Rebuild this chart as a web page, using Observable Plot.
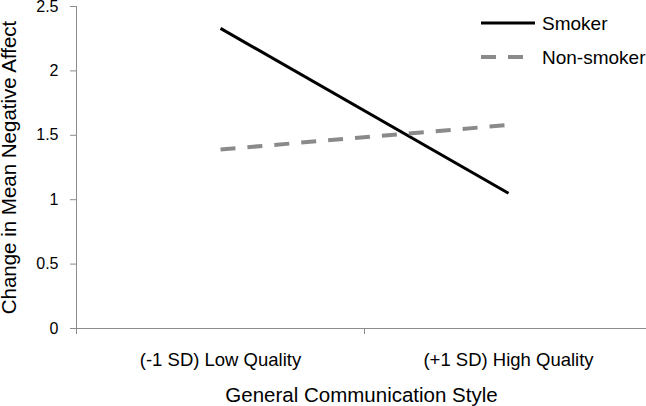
<!DOCTYPE html>
<html>
<head>
<meta charset="utf-8">
<script src="https://cdn.jsdelivr.net/npm/d3@7"></script>
<script src="https://cdn.jsdelivr.net/npm/@observablehq/plot@0.6"></script>
<style>
  html, body { margin: 0; padding: 0; background: #fff; }
  #wrap { position: relative; width: 646px; height: 406px; overflow: hidden; font-family: "Liberation Sans", Arial, sans-serif; }
  #legend { position: absolute; left: 0; top: 0; }
</style>
</head>
<body>
<div id="wrap"></div>
<script>
const categories = ["(-1 SD) Low Quality", "(+1 SD) High Quality"];
const seriesNames = ["Smoker", "Non-smoker"];
const smoker = [2.33, 1.05];
const nonSmoker = [1.39, 1.58];
const yTicks = [0, 0.5, 1, 1.5, 2, 2.5];
const seriesColors = ["#000000", "#8a8a8a"];
const seriesDash = [null, "15,12"];
const seriesWidth = [3, 4];

const rows = [];
[smoker, nonSmoker].forEach((vals, s) => {
  vals.forEach((v, i) => rows.push({pos: i + 0.5, value: v, series: seriesNames[s]}));
});
const catPos = categories.map((c, i) => i + 0.5);
const boundaries = d3.range(categories.length + 1);

const axisColor = "#8c8c8c";
const font = "Liberation Sans, Arial, sans-serif";

const chart = Plot.plot({
  width: 646,
  height: 406,
  marginLeft: 76,
  marginRight: 0,
  marginTop: 6,
  marginBottom: 78,
  style: {fontFamily: font, color: "#000", background: "transparent", overflow: "visible"},
  x: {type: "linear", domain: [0, categories.length], range: [76, 652]},
  y: {domain: [0, 2.5], range: [328, 6]},
  marks: [
    Plot.axisY({ticks: yTicks, tickSize: 6, tickPadding: 12, stroke: axisColor, fill: "#000", fontSize: 16, tickFormat: d => String(d), label: null}),
    Plot.axisX({ticks: boundaries, tickSize: 6, stroke: axisColor, tickFormat: () => "", label: null}),
    Plot.axisX({ticks: catPos, tickSize: 0, tickPadding: 24, fill: "#000", fontSize: 18.5, tickFormat: d => categories[Math.floor(d)], label: null}),
    Plot.ruleY([0], {stroke: axisColor, strokeWidth: 1}),
    Plot.ruleX([0], {stroke: axisColor, strokeWidth: 1}),
    ...seriesNames.map((name, s) => Plot.line(rows.filter(r => r.series === name), {
      x: "pos", y: "value", stroke: seriesColors[s], strokeWidth: seriesWidth[s],
      strokeDasharray: seriesDash[s], strokeLinecap: "butt"
    })),
    Plot.text(["Change in Mean Negative Affect"], {frameAnchor: "left", textAnchor: "middle", rotate: -90, dx: -75, lineAnchor: "top", fontSize: 20.5, fill: "#000"}),
    Plot.text(["General Communication Style"], {frameAnchor: "bottom", dy: 59, lineAnchor: "top", fontSize: 20.5, fill: "#000"})
  ]
});

const wrap = document.getElementById("wrap");
wrap.appendChild(chart);

// Legend overlay
const lg = d3.create("svg").attr("id", "legend").attr("width", 646).attr("height", 80)
  .style("font-family", font);
seriesNames.forEach((name, s) => {
  const cy = 23 + s * 34;
  lg.append("line").attr("x1", 481).attr("x2", 535).attr("y1", cy).attr("y2", cy)
    .attr("stroke", seriesColors[s]).attr("stroke-width", seriesWidth[s])
    .attr("stroke-dasharray", seriesDash[s]);
  lg.append("text").attr("x", 542).attr("y", cy).attr("dy", "0.35em")
    .attr("font-size", 19).attr("fill", "#000").text(name);
});
wrap.appendChild(lg.node());
</script>
</body>
</html>
